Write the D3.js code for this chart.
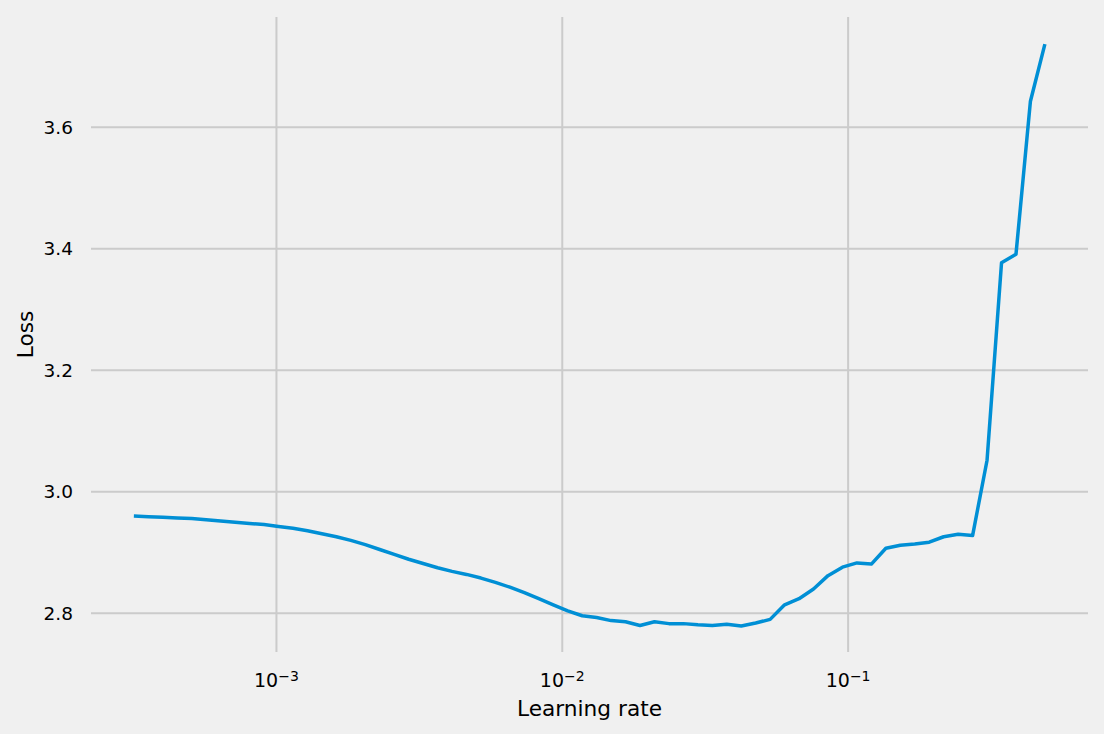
<!DOCTYPE html>
<html>
<head>
  <meta charset="utf-8">
  <title>Learning rate finder</title>
  <script src="https://d3js.org/d3.v7.min.js"></script>
  <style>
    body { margin: 0; background: #f0f0f0; }
    text { font-family: "DejaVu Sans", sans-serif; fill: #000; }
  </style>
</head>
<body>
<div id="chart"></div>
<script>
// learning rates (x)
const lrs = [
  3.184e-4, 3.579e-4, 4.021e-4, 4.517e-4, 5.076e-4, 5.702e-4, 6.406e-4, 7.198e-4,
  8.087e-4, 9.086e-4, 1.021e-3, 1.147e-3, 1.289e-3, 1.448e-3, 1.627e-3, 1.828e-3,
  2.054e-3, 2.307e-3, 2.593e-3, 2.913e-3, 3.273e-3, 3.677e-3, 4.131e-3, 4.642e-3,
  5.215e-3, 5.858e-3, 6.583e-3, 7.396e-3, 8.310e-3, 9.337e-3, 1.049e-2, 1.179e-2,
  1.324e-2, 1.488e-2, 1.671e-2, 1.878e-2, 2.110e-2, 2.371e-2, 2.663e-2, 2.993e-2,
  3.362e-2, 3.778e-2, 4.245e-2, 4.769e-2, 5.358e-2, 6.019e-2, 6.763e-2, 7.598e-2,
  8.537e-2, 9.594e-2, 0.1078, 0.1211, 0.1361, 0.1529, 0.1718, 0.1930,
  0.2168, 0.2436, 0.2737, 0.3075, 0.3455, 0.3882, 0.4361, 0.4900
];
// loss (y)
const losses = [
  2.959, 2.958, 2.957, 2.956, 2.955, 2.953, 2.951, 2.949,
  2.947, 2.945, 2.942, 2.939, 2.935, 2.930, 2.925, 2.919,
  2.912, 2.904, 2.896, 2.888, 2.881, 2.874, 2.868, 2.863,
  2.857, 2.850, 2.842, 2.833, 2.823, 2.813, 2.803, 2.795,
  2.792, 2.787, 2.785, 2.779, 2.785, 2.782, 2.782, 2.780,
  2.779, 2.781, 2.778, 2.783, 2.789, 2.813, 2.823, 2.839,
  2.861, 2.875, 2.882, 2.880, 2.906, 2.911, 2.913, 2.916,
  2.925, 2.929, 2.927, 3.051, 3.376, 3.390, 3.642, 3.736
];
const xTickExps = [-3, -2, -1];
const yTicks = [2.8, 3.0, 3.2, 3.4, 3.6];

const W = 1104, H = 734;
const margin = {top: 17, right: 16, bottom: 82, left: 91};
const width = W - margin.left - margin.right,
      height = H - margin.top - margin.bottom;

const svg = d3.select("#chart").append("svg")
    .attr("width", W).attr("height", H);
svg.append("rect").attr("width", W).attr("height", H).attr("fill", "#f0f0f0");

const g = svg.append("g")
    .attr("transform", `translate(${margin.left},${margin.top})`);

// axis limits as in the original figure
const x = d3.scaleLog()
    .domain([Math.pow(10, -3.647), Math.pow(10, -0.159)])
    .range([0, width]);
const y = d3.scaleLinear()
    .domain([2.7353, 3.7806])
    .range([height, 0]);

// y grid + labels
const yAxis = g.append("g")
    .call(d3.axisLeft(y).tickValues(yTicks).tickSize(-width).tickPadding(18)
      .tickFormat(d3.format(".1f")));
yAxis.select(".domain").remove();
yAxis.selectAll("line").attr("stroke", "#cbcbcb").attr("stroke-width", 2);
yAxis.selectAll("text").attr("font-size", "18.5px").attr("dy", "0.35em");

// x grid + labels
const xAxis = g.append("g")
    .call(d3.axisBottom(x).tickValues(xTickExps.map(e => Math.pow(10, e)))
      .tickSize(height).tickPadding(0).tickFormat(""));
xAxis.select(".domain").remove();
xAxis.selectAll("line").attr("stroke", "#cbcbcb").attr("stroke-width", 2);

xAxis.selectAll(".tick").each(function(d, i) {
  const t = d3.select(this).append("text")
      .attr("y", height + 35)
      .attr("text-anchor", "middle")
      .attr("font-size", "19px");
  t.append("tspan").text("10");
  t.append("tspan").attr("dy", "-0.4em").attr("font-size", "14px")
      .text("\u2212" + Math.abs(xTickExps[i]));
});

// line
g.append("path")
    .datum(lrs.map((d, i) => [d, losses[i]]))
    .attr("fill", "none")
    .attr("stroke", "#008fd5")
    .attr("stroke-width", 3.5)
    .attr("stroke-linejoin", "round")
    .attr("d", d3.line().x(d => x(d[0])).y(d => y(d[1])));

// axis labels
svg.append("text")
    .attr("x", margin.left + width / 2)
    .attr("y", 716)
    .attr("text-anchor", "middle")
    .attr("font-size", "21.7px")
    .text("Learning rate");

svg.append("text")
    .attr("transform", `translate(33,${margin.top + height / 2}) rotate(-90)`)
    .attr("text-anchor", "middle")
    .attr("font-size", "21.7px")
    .text("Loss");
</script>
</body>
</html>
